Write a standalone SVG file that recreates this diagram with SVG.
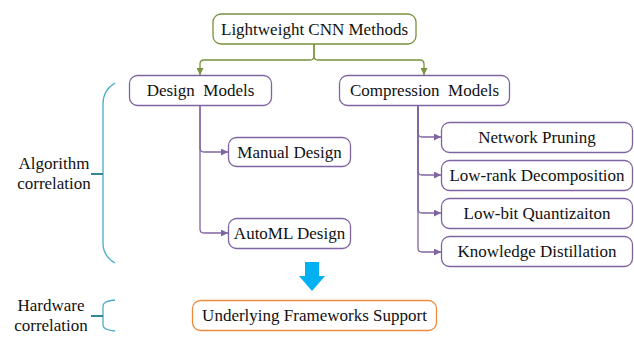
<svg xmlns="http://www.w3.org/2000/svg" width="634" height="339" viewBox="0 0 634 339">
  <style>
    .lbl { font-family: "Liberation Serif", Tinos, "Times New Roman", Times, "DejaVu Serif", serif; font-size: 17px; fill: #111; text-anchor: middle; white-space: pre; }
    .box { fill: #fff; stroke-width: 1.3; }
    .green { stroke: #77933C; }
    .purple { stroke: #8064A2; }
    .orange { stroke: #F08A3C; }
    .link { fill: none; stroke-width: 1.3; }
    .brace { fill: none; stroke: #4BACC6; stroke-width: 1.3; }
    .tick { fill: none; stroke: #31859C; stroke-width: 2; }
  </style>
  <defs>
    <marker id="headGreen" viewBox="0 0 10 10" refX="10" refY="5" markerWidth="7" markerHeight="7" markerUnits="userSpaceOnUse" orient="auto">
      <path d="M0,0 L10,5 L0,10 Z" fill="#77933C"/>
    </marker>
    <marker id="headPurple" viewBox="0 0 10 10" refX="10" refY="5" markerWidth="7" markerHeight="7" markerUnits="userSpaceOnUse" orient="auto">
      <path d="M0,0 L10,5 L0,10 Z" fill="#8064A2"/>
    </marker>
  </defs>

  <!-- connectors -->
  <g id="connectors">
    <path class="link green" d="M314,44 V56 Q314,60 310,60 H204 Q200,60 200,64 V75" marker-end="url(#headGreen)"/>
    <path class="link green" d="M314,44 V56 Q314,60 318,60 H420 Q424,60 424,64 V75" marker-end="url(#headGreen)"/>

    <path class="link purple" d="M200,106 V148 Q200,152 204,152 H228" marker-end="url(#headPurple)"/>
    <path class="link purple" d="M200,106 V229 Q200,233 204,233 H228" marker-end="url(#headPurple)"/>

    <path class="link purple" d="M418,106 V133 Q418,137 422,137 H441" marker-end="url(#headPurple)"/>
    <path class="link purple" d="M418,106 V171 Q418,175 422,175 H441" marker-end="url(#headPurple)"/>
    <path class="link purple" d="M418,106 V209 Q418,213 422,213 H441" marker-end="url(#headPurple)"/>
    <path class="link purple" d="M418,106 V248 Q418,252 422,252 H441" marker-end="url(#headPurple)"/>

    <!-- block arrow down to the framework layer -->
    <path d="M305,262 H319 V276 H325 L312,291 L299,276 H305 Z" fill="#00B0F0"/>
  </g>

  <!-- nodes -->
  <g id="node-root">
    <rect class="box green" x="213" y="14" width="203" height="30" rx="8"/>
    <text class="lbl" x="314.5" y="35">Lightweight CNN Methods</text>
  </g>
  <g id="node-design">
    <rect class="box purple" x="129.5" y="75.5" width="142" height="30" rx="8"/>
    <text class="lbl" x="200.5" y="96">Design  Models</text>
  </g>
  <g id="node-compression">
    <rect class="box purple" x="339.5" y="75.5" width="170" height="30" rx="8"/>
    <text class="lbl" x="424.5" y="96">Compression  Models</text>
  </g>
  <g id="node-manual">
    <rect class="box purple" x="228.5" y="137.5" width="122" height="29" rx="8"/>
    <text class="lbl" x="289.5" y="158">Manual Design</text>
  </g>
  <g id="node-automl">
    <rect class="box purple" x="228.5" y="218.5" width="122" height="30" rx="8"/>
    <text class="lbl" x="289.5" y="239">AutoML Design</text>
  </g>
  <g id="node-pruning">
    <rect class="box purple" x="441.5" y="122.5" width="191" height="30" rx="8"/>
    <text class="lbl" x="537" y="143">Network Pruning</text>
  </g>
  <g id="node-lowrank">
    <rect class="box purple" x="441.5" y="160.5" width="191" height="30" rx="8"/>
    <text class="lbl" x="537" y="181">Low-rank Decomposition</text>
  </g>
  <g id="node-lowbit">
    <rect class="box purple" x="441.5" y="198.5" width="191" height="30" rx="8"/>
    <text class="lbl" x="537" y="219">Low-bit Quantizaiton</text>
  </g>
  <g id="node-distillation">
    <rect class="box purple" x="441.5" y="236.5" width="191" height="30" rx="8"/>
    <text class="lbl" x="537" y="257">Knowledge Distillation</text>
  </g>
  <g id="node-frameworks">
    <rect class="box orange" x="192.5" y="300.5" width="244" height="30" rx="8"/>
    <text class="lbl" x="314.5" y="321">Underlying Frameworks Support</text>
  </g>

  <!-- side braces with their labels -->
  <g id="algorithm-correlation">
    <path class="brace" d="M115,83 Q103,90 103,104 V243 Q103,256 115,263"/>
    <path class="tick" d="M91,174 H103"/>
    <text class="lbl" x="54" y="169">Algorithm</text>
    <text class="lbl" x="54" y="189">correlation</text>
  </g>
  <g id="hardware-correlation">
    <path class="brace" d="M115,300 Q103,301 103,306 V325 Q103,330 115,331"/>
    <path class="tick" d="M91,316 H103"/>
    <text class="lbl" x="51" y="311">Hardware</text>
    <text class="lbl" x="51" y="331">correlation</text>
  </g>
</svg>
